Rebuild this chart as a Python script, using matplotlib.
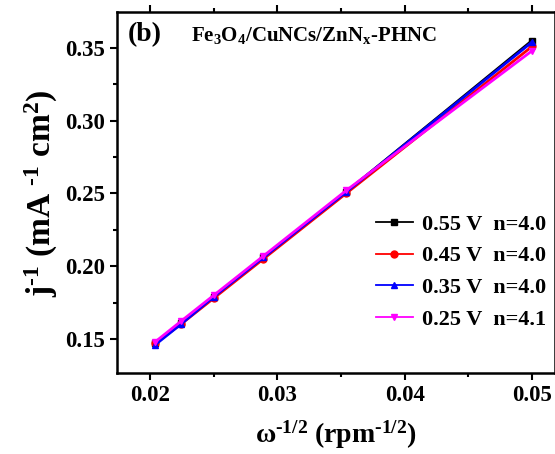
"""
Koutecky-Levich plot for Fe3O4/CuNCs/ZnNx-PHNC, panel (b).
"""
import matplotlib
matplotlib.use('Agg')
import matplotlib.pyplot as plt
from matplotlib.ticker import MultipleLocator

plt.rcParams['font.family'] = ['Liberation Serif', 'DejaVu Serif']
plt.rcParams['font.weight'] = 'bold'
plt.rcParams['mathtext.fontset'] = 'custom'
plt.rcParams['mathtext.rm'] = 'Liberation Serif:bold'
plt.rcParams['mathtext.it'] = 'Liberation Serif:bold'
plt.rcParams['mathtext.bf'] = 'Liberation Serif:bold'
plt.rcParams['mathtext.default'] = 'rm'

# omega^-1/2 for 2400, 2000, 1600, 1200, 800, 400 rpm
omega = [0.0204, 0.0224, 0.0250, 0.0289, 0.0354, 0.0500]

j_055 = [0.147, 0.161, 0.179, 0.206, 0.251, 0.355]
j_045 = [0.147, 0.160, 0.178, 0.205, 0.250, 0.351]
j_035 = [0.146, 0.160, 0.179, 0.206, 0.251, 0.354]
j_025 = [0.148, 0.162, 0.180, 0.207, 0.252, 0.348]

labels = ['0.55 V  n=4.0', '0.45 V  n=4.0', '0.35 V  n=4.0', '0.25 V  n=4.1']
series = [j_055, j_045, j_035, j_025]
colors = ['black', 'red', 'blue', 'magenta']
markers = ['s', 'o', '^', 'v']

fig = plt.figure(figsize=(5.55, 4.54), dpi=100)
ax = fig.add_axes([0.2108, 0.1784, 0.7892, 0.7941])

for y, lab, c, m in zip(series, labels, colors, markers):
    ax.plot(omega, y, color=c, marker=m, markersize=5, linewidth=2, label=lab)

ax.set_xlim(0.0174, 0.0518)
ax.set_ylim(0.1266, 0.3743)
ax.xaxis.set_minor_locator(MultipleLocator(0.005))
ax.yaxis.set_minor_locator(MultipleLocator(0.025))
ax.set_xticks([0.02, 0.03, 0.04, 0.05])
ax.set_xticklabels(['0.02', '0.03', '0.04', '0.05'])
ax.set_yticks([0.15, 0.20, 0.25, 0.30, 0.35])
ax.set_yticklabels(['0.15', '0.20', '0.25', '0.30', '0.35'])

ax.tick_params(which='major', direction='out', length=5, width=1.5, labelsize=16.5,
               top=True, right=True)
ax.tick_params(which='minor', direction='out', length=3, width=1.5, top=True, right=True)
for s in ax.spines.values():
    s.set_linewidth(1.8)

ax.set_xlabel(r'ω$^{\text{-}1/2}$ (rpm$^{\text{-}1/2}$)', fontsize=20, fontweight='bold',
              labelpad=9)
ax.set_ylabel(r'j$^{\text{-}1}$ (mA $^{\text{-}1}$ cm$^{2}$)', fontsize=24, fontweight='bold',
              labelpad=4)

ax.text(0.025, 0.94, '(b)', transform=ax.transAxes, fontsize=20, fontweight='bold',
        ha='left', va='center')
ax.text(0.17, 0.935, r'Fe$_3$O$_4$/CuNCs/ZnN$_x$-PHNC', transform=ax.transAxes,
        fontsize=15, fontweight='bold', ha='left', va='center')

leg = ax.legend(loc='upper left', bbox_to_anchor=(0.57, 0.465), frameon=False,
                prop={'size': 16, 'weight': 'bold'}, handlelength=1.7,
                handletextpad=0.4, labelspacing=0.5, borderaxespad=0)
for h in leg.get_lines():
    h.set_linewidth(1.3)

fig.savefig('out.png', dpi=100)
